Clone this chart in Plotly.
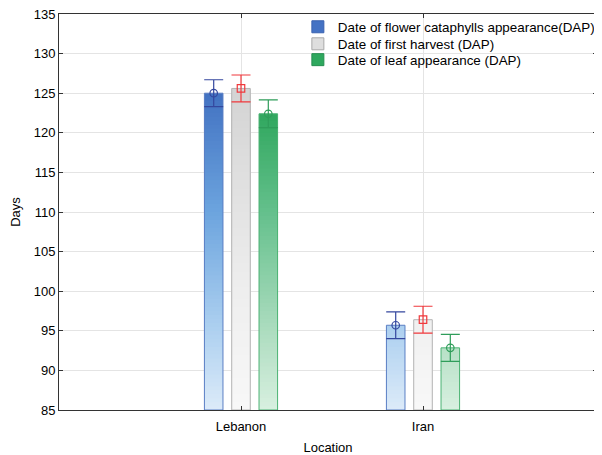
import plotly.graph_objects as go
import numpy as np

locations = ["Lebanon", "Iran"]
series_names = ["Date of flower cataphylls appearance(DAP)",
                "Date of first harvest (DAP)",
                "Date of leaf appearance (DAP)"]
flower_vals = [125.0, 95.7]
flower_err = [1.7, 1.7]
harvest_vals = [125.6, 96.4]
harvest_err = [1.7, 1.7]
leaf_vals = [122.4, 92.85]
leaf_err = [1.75, 1.7]
y_ticks = [85, 90, 95, 100, 105, 110, 115, 120, 125, 130, 135]

values = [flower_vals, harvest_vals, leaf_vals]
errors = [flower_err, harvest_err, leaf_err]

# gradient stops (y level, rgb) per series: light at bottom, dark at top
grad = [
    [(85, (220, 235, 249)), (96, (170, 206, 239)), (110, (108, 164, 222)), (125, (66, 114, 194)), (135, (60, 106, 186))],
    [(85, (248, 248, 248)), (100, (238, 238, 238)), (125, (212, 212, 212)), (135, (205, 205, 205))],
    [(85, (216, 240, 224)), (93, (182, 224, 198)), (110, (100, 192, 140)), (122, (50, 168, 96)), (135, (44, 154, 87))],
]
outline = ["#5b7fc4", "#b4b4b4", "#4cb374"]
err_col = ["#34479e", "#f0393c", "#2f9d5a"]
mark_sym = ["circle-open", "square-open", "circle-open"]
mark_col = ["#34479e", "#f0393c", "#2f9d5a"]
legend_fill = ["#4472c4", "#dedede", "#2ea85e"]
legend_line = ["#3a62b0", "#a8a8a8", "#268f50"]
legend_ids = ["legend", "legend2", "legend3"]
legend_y = [0.967, 0.924, 0.884]


def color_at(stops, y):
    ys = [s[0] for s in stops]
    rgb = [np.interp(y, ys, [s[1][i] for s in stops]) for i in range(3)]
    return "rgb(%d,%d,%d)" % tuple(int(round(c)) for c in rgb)


fig = go.Figure()
step = 0.5
levels = np.arange(85 + step, 135 + step / 2, step)

for si in range(3):
    og = "s%d" % si
    # legend-only swatch
    fig.add_trace(go.Bar(x=[None], y=[None], name=series_names[si], offsetgroup=og,
                         legend=legend_ids[si],
                         marker=dict(color=legend_fill[si], line=dict(color=legend_line[si], width=1)),
                         showlegend=True))
    vals = values[si]
    for hi in levels[::-1]:
        lo = hi - step
        ys = []
        for v in vals:
            ys.append(min(v, hi) - 85 if v > lo else None)
        if all(y is None for y in ys):
            continue
        fig.add_trace(go.Bar(x=locations, y=ys, base=85, offsetgroup=og, showlegend=False,
                             marker=dict(color=color_at(grad[si], lo + step / 2), line=dict(width=0)),
                             hoverinfo="skip"))
    # outline + error bars
    fig.add_trace(go.Bar(x=locations, y=[v - 85 for v in vals], base=85, offsetgroup=og, showlegend=False,
                         marker=dict(color="rgba(0,0,0,0)", line=dict(color=outline[si], width=1)),
                         error_y=dict(type="data", array=errors[si], color=err_col[si], thickness=1.2, width=9.5),
                         hoverinfo="skip"))
    fig.add_trace(go.Scatter(x=locations, y=vals, mode="markers", offsetgroup=og, showlegend=False,
                             marker=dict(symbol=mark_sym[si], color=mark_col[si], size=7.5,
                                         line=dict(width=1.2, color=mark_col[si])),
                             hoverinfo="skip"))

legend_common = dict(x=0.444, xanchor="left", yanchor="middle", bgcolor="rgba(0,0,0,0)",
                     font=dict(size=13.4, color="black"), itemwidth=30)

fig.update_layout(
    width=594, height=447,
    margin=dict(l=51, r=2, t=6, b=45),
    paper_bgcolor="white", plot_bgcolor="white",
    barmode="group", bargap=0.55, bargroupgap=0.32,
    scattermode="group", scattergap=0.55,
    font=dict(family="Liberation Sans, Arial, sans-serif", size=12, color="black"),
    legend=dict(y=legend_y[0], **legend_common),
    legend2=dict(y=legend_y[1], **legend_common),
    legend3=dict(y=legend_y[2], **legend_common),
    xaxis=dict(type="category", range=[-1, 1.956], showline=True, linecolor="#333", linewidth=1,
               mirror="ticks", ticks="inside", ticklen=4, tickcolor="#333",
               showgrid=True, gridcolor="#e4e4e4", automargin=False, ticklabelstandoff=4,
               ticklabeloverflow="allow",
               title=dict(text="Location", font=dict(size=13), standoff=13),
               tickfont=dict(size=13)),
    yaxis=dict(range=[85, 135], tickvals=y_ticks, showline=True, linecolor="#333", linewidth=1,
               mirror="ticks", ticks="inside", ticklen=4, tickcolor="#333",
               showgrid=True, gridcolor="#e4e4e4", zeroline=False, automargin=False,
               ticklabeloverflow="allow",
               title=dict(text="Days", font=dict(size=13), standoff=15),
               tickfont=dict(size=13)),
)

fig.write_html("out.html")
